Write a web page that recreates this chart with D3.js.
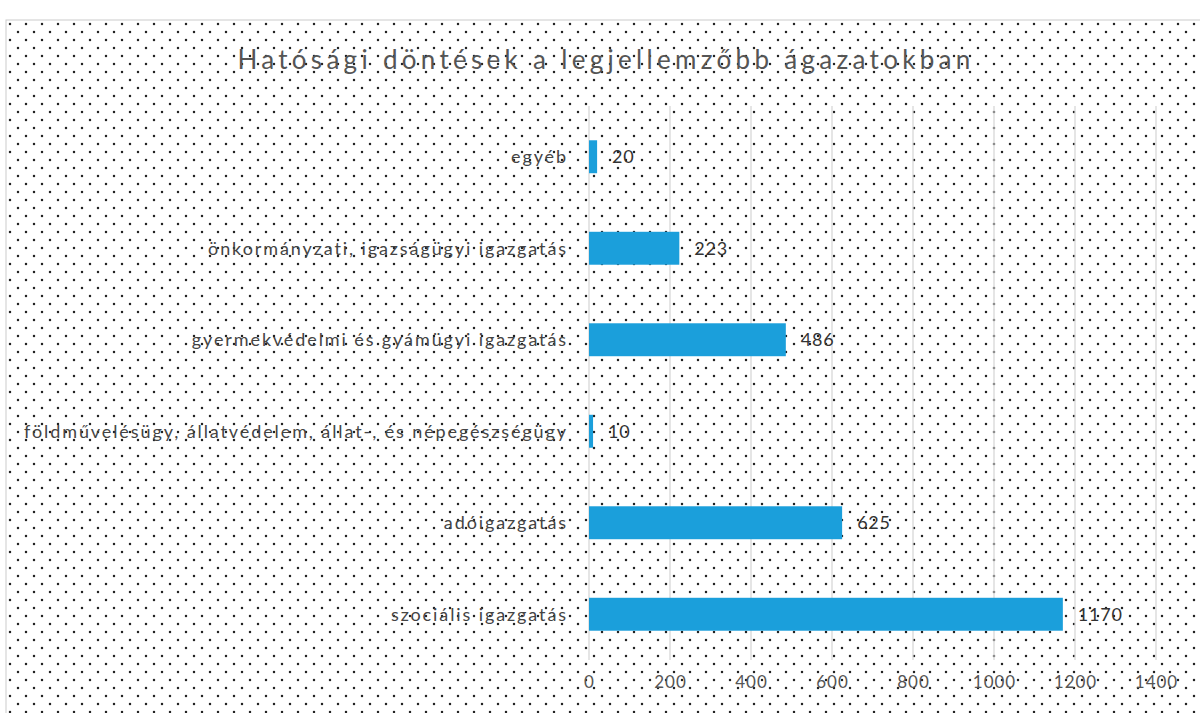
<!DOCTYPE html>
<meta charset="utf-8">
<script src="https://cdn.jsdelivr.net/npm/d3@7"></script>
<style>
body { margin: 0; background: #fff; }
text { font-family: "Lato", "DejaVu Sans", sans-serif; fill: #444; }
.title { font-size: 26px; fill: #555; letter-spacing: 4.3px; }
.cat { font-size: 18px; letter-spacing: 1.9px; }
.val { font-size: 18px; fill: #333; letter-spacing: 0.8px; }
.tick text { font-size: 17px; fill: #555; letter-spacing: 1px; }
</style>
<body>
<script>
var categories = ["egyéb",
  "önkormányzati, igazságügyi igazgatás",
  "gyermekvédelmi és gyámügyi igazgatás",
  "földművelésügy, állatvédelem, állat-, és népegészségügy",
  "adóigazgatás",
  "szociális igazgatás"];
var values = [20, 223, 486, 10, 625, 1170];
var tickValues = [0, 200, 400, 600, 800, 1000, 1200, 1400];

var width = 1200,
    height = 713;

var svg = d3.select("body").append("svg")
    .attr("width", width)
    .attr("height", height);

// dotted paper background
var pat = svg.append("defs").append("pattern")
    .attr("id", "dots")
    .attr("patternUnits", "userSpaceOnUse")
    .attr("x", 10).attr("y", 24)
    .attr("width", 16).attr("height", 16);
[[0, 0], [16, 0], [0, 16], [16, 16], [8, 8]].forEach(function(p) {
  pat.append("circle").attr("cx", p[0]).attr("cy", p[1]).attr("r", 1.25).attr("fill", "#222");
});

svg.append("rect")
    .attr("x", 6).attr("y", 20)
    .attr("width", width).attr("height", height)
    .attr("fill", "url(#dots)")
    .attr("stroke", "#ccc");

var x = d3.scaleLinear()
    .domain([0, 1400])
    .range([589, 1156]);

var y = d3.scaleBand()
    .domain(categories)
    .range([111, 660])
    .paddingInner(0.64)
    .paddingOuter(0.32);

// gridlines
svg.append("g")
  .selectAll("line")
  .data(tickValues)
  .enter().append("line")
    .attr("x1", d => x(d)).attr("x2", d => x(d))
    .attr("y1", 106).attr("y2", 660)
    .attr("stroke", "#d4d4d4")
    .attr("stroke-width", 1.2);

// axis labels
var axis = svg.append("g")
    .attr("transform", "translate(0,662)")
    .call(d3.axisBottom(x).tickValues(tickValues).tickFormat(d3.format("d"))
      .tickSize(0).tickPadding(14));
axis.select(".domain").remove();

svg.append("text")
    .attr("class", "title")
    .attr("x", 606).attr("y", 69)
    .attr("text-anchor", "middle")
    .text("Hatósági döntések a legjellemzőbb ágazatokban");

svg.append("g")
  .selectAll("rect")
  .data(values)
  .enter().append("rect")
    .attr("x", x(0))
    .attr("y", (d, i) => y(categories[i]))
    .attr("width", d => x(d) - x(0))
    .attr("height", y.bandwidth())
    .attr("fill", "#1b9fdb");

svg.append("g")
  .selectAll("text")
  .data(categories)
  .enter().append("text")
    .attr("class", "cat")
    .attr("x", 568)
    .attr("y", d => y(d) + y.bandwidth() / 2)
    .attr("dy", "0.35em")
    .attr("text-anchor", "end")
    .text(d => d);

svg.append("g")
  .selectAll("text")
  .data(values)
  .enter().append("text")
    .attr("class", "val")
    .attr("x", d => x(d) + 15)
    .attr("y", (d, i) => y(categories[i]) + y.bandwidth() / 2)
    .attr("dy", "0.35em")
    .text(d => d);
</script>
</body>
